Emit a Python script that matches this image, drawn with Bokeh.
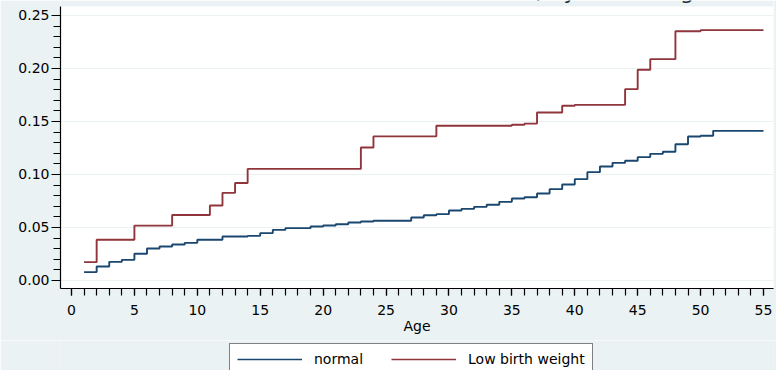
from bokeh.plotting import figure
from bokeh.layouts import column
from bokeh.models import Range1d, FixedTicker, Legend, LegendItem, Label, NumeralTickFormatter, BoxAnnotation
from bokeh.embed import file_html
from bokeh.resources import INLINE

# ---- data ----
age_normal = [1, 2, 3, 4, 5, 6, 7, 8, 9, 10, 12, 14, 15, 16, 17, 19, 20, 21, 22, 23, 24,
              27, 28, 29, 30, 31, 32, 33, 34, 35, 36, 37, 38, 39, 40, 41, 42, 43, 44, 45,
              46, 47, 48, 49, 50, 51, 55]
fail_normal = [0.0079, 0.0132, 0.0176, 0.0195, 0.0252, 0.0302, 0.0321, 0.0340, 0.0355, 0.0384,
               0.0415, 0.0421, 0.0447, 0.0478, 0.0494, 0.0509, 0.0519, 0.0531, 0.0547, 0.0557,
               0.0563, 0.0594, 0.0616, 0.0626, 0.0660, 0.0676, 0.0695, 0.0714, 0.0742, 0.0774,
               0.0786, 0.0821, 0.0862, 0.0906, 0.0956, 0.1022, 0.1075, 0.1110, 0.1129, 0.1164,
               0.1195, 0.1214, 0.1286, 0.1358, 0.1365, 0.1412, 0.1412]
age_low = [1, 2, 5, 8, 11, 12, 13, 14, 23, 24, 29, 35, 36, 37, 39, 40, 44, 45, 46, 48, 50, 55]
fail_low = [0.0173, 0.0384, 0.0518, 0.0618, 0.0708, 0.0827, 0.0920, 0.1053, 0.1254, 0.1360,
            0.1460, 0.1470, 0.1480, 0.1585, 0.1648, 0.1657, 0.1805, 0.1988, 0.2088, 0.2352,
            0.2362, 0.2362]
series_names = ["normal", "Low birth weight"]
x_major = [0, 5, 10, 15, 20, 25, 30, 35, 40, 45, 50, 55]
x_minor = list(range(0, 56))
y_major = [0.0, 0.05, 0.10, 0.15, 0.20, 0.25]
y_minor = [round(i * 0.01, 2) for i in range(0, 26)]
title_text = "Nelson-Aalen cumulative hazard estimates, by birth weight"
x_label = "Age"

FONT = "DejaVu Sans"
BG = "#EAF2F3"
NAVY = "#1A476F"
MAROON = "#90353B"

Y_TOP_PLOT = 0.2585   # top of the white plot region

p = figure(width=776, height=340, output_backend="svg", toolbar_location=None,
           x_range=Range1d(-0.874, 55.795), y_range=Range1d(-0.00755, 0.26415),
           min_border_left=60, min_border_right=3, min_border_top=0, min_border_bottom=52,
           background_fill_color="white", border_fill_color=BG, outline_line_color=None)

# light strip above the plot region (the graph region colour)
p.add_layout(BoxAnnotation(bottom=Y_TOP_PLOT, fill_color=BG, fill_alpha=1, line_color=None, level="underlay"))

r_norm = p.step(age_normal, fail_normal, mode="after", line_color=NAVY, line_width=1.9)
r_low = p.step(age_low, fail_low, mode="after", line_color=MAROON, line_width=1.9)

# axes
p.xaxis.ticker = FixedTicker(ticks=x_major, minor_ticks=x_minor)
p.yaxis.ticker = FixedTicker(ticks=y_major, minor_ticks=y_minor)
p.yaxis.formatter = NumeralTickFormatter(format="0.00")
p.yaxis.bounds = (-0.00755, Y_TOP_PLOT)
for ax in (p.xaxis[0], p.yaxis[0]):
    ax.axis_line_color = "black"
    ax.axis_line_width = 1.2
    ax.major_tick_line_color = "black"
    ax.minor_tick_line_color = "black"
    ax.major_tick_line_width = 1.2
    ax.minor_tick_line_width = 1.2
    ax.major_tick_in = 0
    ax.minor_tick_in = 0
    ax.major_label_text_font = FONT
    ax.major_label_text_font_size = "14px"
    ax.major_label_text_color = "black"
p.xaxis.major_tick_out = 7
p.xaxis.minor_tick_out = 7
p.xaxis.major_label_standoff = 9
p.yaxis.major_tick_out = 9
p.yaxis.minor_tick_out = 7
p.yaxis.major_label_standoff = 2
p.yaxis.major_label_orientation = "horizontal"
p.xaxis.axis_label = x_label
p.xaxis.axis_label_text_font = FONT
p.xaxis.axis_label_text_font_size = "14px"
p.xaxis.axis_label_text_font_style = "normal"
p.xaxis.axis_label_text_color = "black"
p.xaxis.axis_label_standoff = 0

p.xgrid.visible = False
p.ygrid.grid_line_color = BG
p.ygrid.grid_line_width = 1.2

# title, clipped at the top edge of the picture (only its descenders show)
p.add_layout(Label(x=25.35, y=0.2727, text=title_text, text_font=FONT, text_font_size="22px",
                   text_color="#1E2D3B", text_baseline="alphabetic", text_align="center"))

# ---- legend strip below ----
lg = figure(width=776, height=30, output_backend="svg", toolbar_location=None,
            x_range=Range1d(-20, -10), y_range=Range1d(0, 1), x_axis_type=None, y_axis_type=None,
            min_border=0, background_fill_color=BG, border_fill_color=BG, outline_line_color=None)
lg.grid.visible = False
# same series drawn off-screen, only to carry the legend keys
k_norm = lg.line(age_normal, fail_normal, line_color=NAVY, line_width=1.5)
k_low = lg.line(age_low, fail_low, line_color=MAROON, line_width=1.5)
legend = Legend(items=[LegendItem(label=series_names[0], renderers=[k_norm]),
                       LegendItem(label=series_names[1], renderers=[k_low])],
                orientation="horizontal", location=(169, -5),
                glyph_width=65, glyph_height=16, label_height=16,
                label_standoff=12, spacing=28, padding=7, margin=0,
                label_text_font=FONT, label_text_font_size="14px", label_text_color="black",
                border_line_color="black", border_line_width=1,
                background_fill_color="white", background_fill_alpha=1)
lg.add_layout(legend, "center")

layout = column(p, lg, spacing=0)
open("out.html", "w").write(file_html(layout, INLINE))
